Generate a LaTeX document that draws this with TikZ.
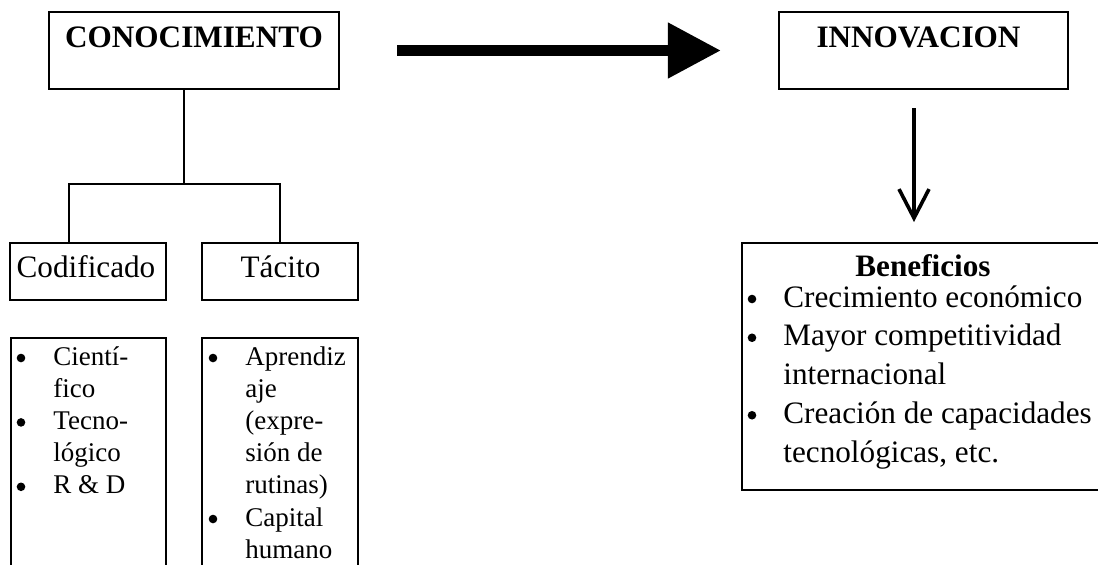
\documentclass[tikz,border=0pt]{standalone}
\usepackage{fontspec}
\setmainfont{Liberation Serif}
\usepackage{tikz}
\usetikzlibrary{arrows.meta}

\begin{document}
\begin{tikzpicture}[x=0.5pt,y=-0.5pt,
  box/.style={draw,line width=1.1pt,inner sep=0pt},
  title/.style={anchor=base,inner sep=0pt,font=\fontsize{15.6}{18}\selectfont\bfseries},
  label/.style={anchor=base,inner sep=0pt,font=\fontsize{15.6}{18}\selectfont},
  small/.style={anchor=base west,inner sep=0pt,font=\fontsize{13.5}{16}\selectfont},
  big/.style={anchor=base west,inner sep=0pt,font=\fontsize{15.6}{18}\selectfont},
  dot/.style={circle,fill,inner sep=0pt,minimum size=4.3pt},
  tree/.style={line width=1.1pt},
  bigarrow/.style={line width=5.5pt,-{Triangle[length=26.5pt,width=26.5pt]},shorten <=28.5pt,shorten >=28.5pt},
  downarrow/.style={line width=1.8pt,-{Straight Barb[length=14.5pt,width=15pt]}}]
\clip (0,0) rectangle (1098,564);
% boxes
\node[box,minimum width=145pt,minimum height=38.5pt] (kbox) at (194,50.5) {};
\node[box,minimum width=144.5pt,minimum height=38.5pt] (ibox) at (923.5,50.5) {};
\node[box,minimum width=78pt,minimum height=28.5pt] (cbox) at (88,271.5) {};
\node[box,minimum width=78pt,minimum height=28.5pt] (tbox) at (280,271.5) {};
\node[box,minimum width=77.5pt,minimum height=131pt] (clist) at (88.5,469) {};
\node[box,minimum width=78pt,minimum height=131pt] (tlist) at (280,469) {};
\node[box,minimum width=181pt,minimum height=123.5pt] (bbox) at (923,366.5) {};
% titles
\node[title] (ktxt) at (194,47) {CONOCIMIENTO};
\node[title] (itxt) at (918.5,47) {INNOVACION};
\node[label] (ctxt) at (86,277) {Codificado};
\node[label] (ttxt) at (280.5,277) {Tácito};
\node[title] (btxt) at (923,276) {Beneficios};
% tree
\coordinate (kfoot) at (184,89);
\coordinate (fork) at (184,184);
\coordinate (cleg) at (69,0);
\draw[tree] (kfoot) -- (fork);
\draw[tree] (cbox.north -| cleg) |- (fork) -| (tbox.north);
% arrows
\draw[bigarrow] (kbox) -- (ibox);
\coordinate (dtop) at (914,108);
\coordinate (dbot) at (914,222);
\draw[downarrow] (dtop) -- (dbot);
% lists
\foreach \t [count=\i] in {Cientí-,fico,Tecno-,lógico,R \& D}
  \node[small] (cl\i) at (53,{365+32.2*(\i-1)}) {\t};
\foreach \i in {1,3,5}
  \node[dot] (cb\i) at (21,{358+32.2*(\i-1)}) {};
\foreach \t [count=\i] in {Aprendiz,aje,{(expre-},sión de,{rutinas)},Capital,humano}
  \node[small] (tl\i) at (245,{365+32.2*(\i-1)}) {\t};
\foreach \i in {1,6}
  \node[dot] (tb\i) at (213,{358+32.2*(\i-1)}) {};
\foreach \t [count=\i] in {Crecimiento económico,Mayor competitividad,internacional,Creación de capacidades,{tecnológicas, etc.}}
  \node[big] (bl\i) at (783,{307+38.75*(\i-1)}) {\t};
\foreach \i in {1,2,4}
  \node[dot] (bb\i) at (752,{299+38.75*(\i-1)}) {};
\end{tikzpicture}
\end{document}
